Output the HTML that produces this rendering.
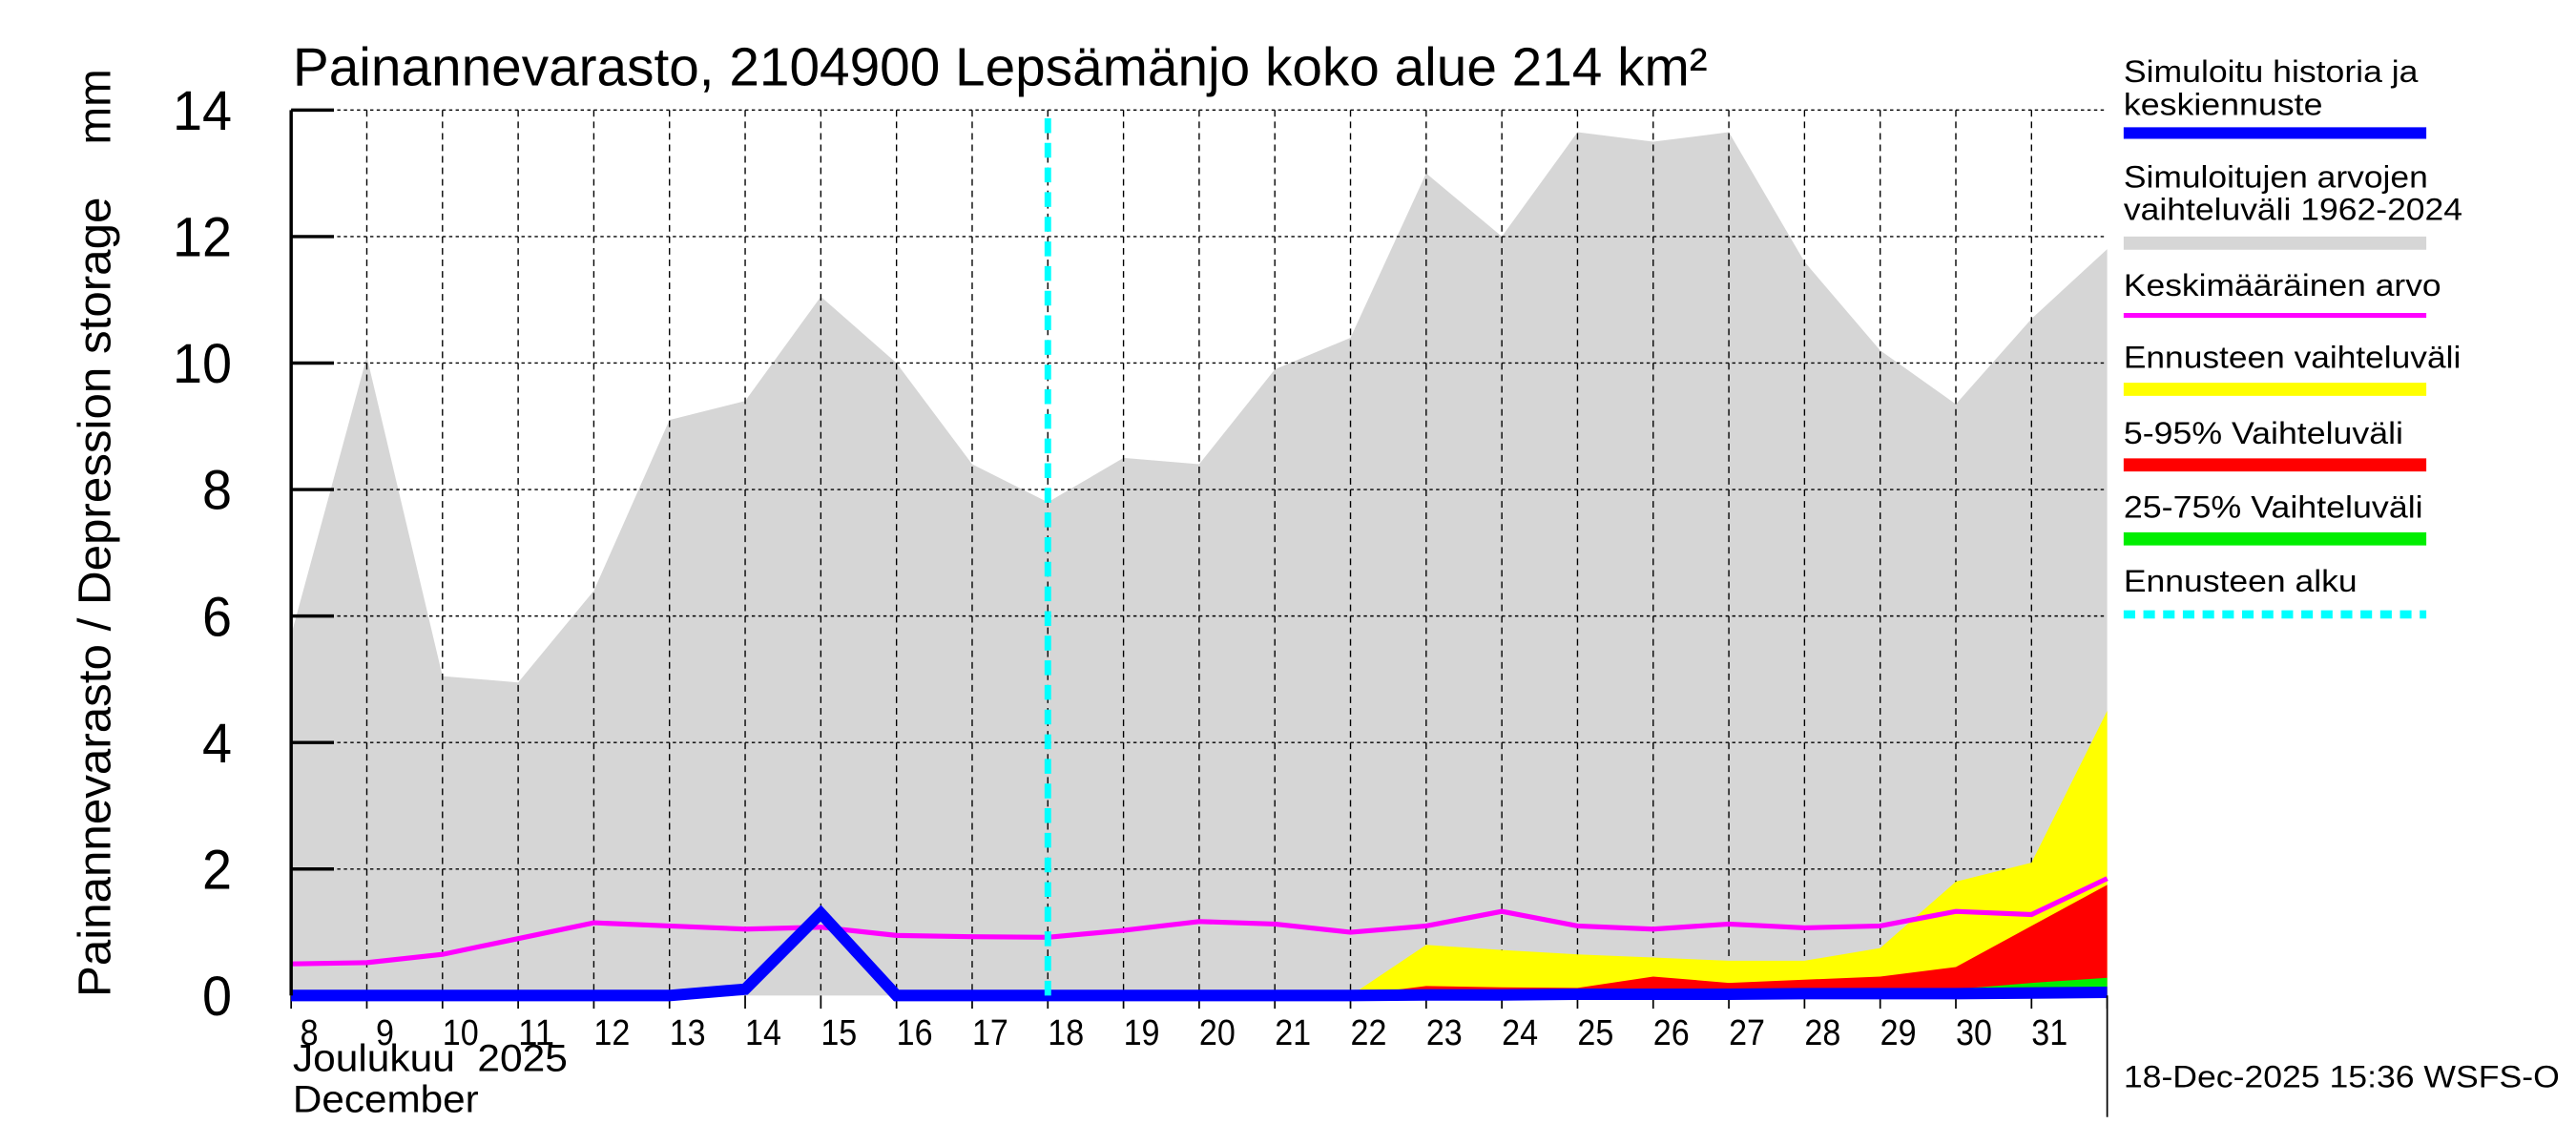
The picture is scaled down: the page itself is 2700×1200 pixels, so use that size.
<!DOCTYPE html>
<html><head><meta charset="utf-8"><style>
html,body{margin:0;padding:0;background:#fff;}
svg{display:block;}
text{font-family:"Liberation Sans",sans-serif;fill:#000;}
</style></head><body>
<svg id="chart" width="2700" height="1200" viewBox="0 0 1566 697" preserveAspectRatio="none" xmlns="http://www.w3.org/2000/svg">
<g id="plot"></g>
<text x="178" y="52" font-size="33" textLength="860" lengthAdjust="spacingAndGlyphs">Painannevarasto, 2104900 Lepsämänjo koko alue 214 km²</text>
<text transform="translate(67,607) rotate(-90)" font-size="28" textLength="487" lengthAdjust="spacingAndGlyphs">Painannevarasto / Depression storage</text>
<text transform="translate(67,88) rotate(-90)" font-size="28" textLength="46" lengthAdjust="spacingAndGlyphs">mm</text>
<text x="178" y="652" font-size="23" textLength="167" lengthAdjust="spacingAndGlyphs" xml:space="preserve">Joulukuu  2025</text>
<text x="178" y="677" font-size="23" textLength="113" lengthAdjust="spacingAndGlyphs">December</text>
<text x="1291" y="662" font-size="19" textLength="265" lengthAdjust="spacingAndGlyphs">18-Dec-2025 15:36 WSFS-O</text>
<line x1="1281" y1="606" x2="1281" y2="680" stroke="#000" stroke-width="1"/>
<g id="legend">
<text x="1291" y="50" font-size="19" textLength="179" lengthAdjust="spacingAndGlyphs">Simuloitu historia ja</text>
<text x="1291" y="70" font-size="19" textLength="121" lengthAdjust="spacingAndGlyphs">keskiennuste</text>
<line x1="1291" y1="81" x2="1475" y2="81" stroke="#0000ff" stroke-width="7"/>
<text x="1291" y="114" font-size="19" textLength="185" lengthAdjust="spacingAndGlyphs">Simuloitujen arvojen</text>
<text x="1291" y="134" font-size="19" textLength="206" lengthAdjust="spacingAndGlyphs">vaihteluväli 1962-2024</text>
<line x1="1291" y1="148" x2="1475" y2="148" stroke="#d6d6d6" stroke-width="8"/>
<text x="1291" y="180" font-size="19" textLength="193" lengthAdjust="spacingAndGlyphs">Keskimääräinen arvo</text>
<line x1="1291" y1="192" x2="1475" y2="192" stroke="#ff00ff" stroke-width="3"/>
<text x="1291" y="224" font-size="19" textLength="205" lengthAdjust="spacingAndGlyphs">Ennusteen vaihteluväli</text>
<line x1="1291" y1="237" x2="1475" y2="237" stroke="#ffff00" stroke-width="8"/>
<text x="1291" y="270" font-size="19" textLength="170" lengthAdjust="spacingAndGlyphs">5-95% Vaihteluväli</text>
<line x1="1291" y1="283" x2="1475" y2="283" stroke="#ff0000" stroke-width="8"/>
<text x="1291" y="315" font-size="19" textLength="182" lengthAdjust="spacingAndGlyphs">25-75% Vaihteluväli</text>
<line x1="1291" y1="328" x2="1475" y2="328" stroke="#00ee00" stroke-width="8"/>
<text x="1291" y="360" font-size="19" textLength="142" lengthAdjust="spacingAndGlyphs">Ennusteen alku</text>
<line x1="1291" y1="374" x2="1475" y2="374" stroke="#00ffff" stroke-width="5" stroke-dasharray="7,5"/>
</g>
</svg>
<script>
const dayLabels = ["8","9","10","11","12","13","14","15","16","17","18","19","20","21","22","23","24","25","26","27","28","29","30","31",""];
const yTicks = [0,2,4,6,8,10,12,14];
const rangeMax = [5.7,10.1,5.05,4.95,6.4,9.1,9.4,11.05,10.0,8.4,7.8,8.5,8.4,9.9,10.4,13.0,12.0,13.65,13.5,13.65,11.6,10.2,9.35,10.7,11.8];
const meanVals = [0.5,0.52,0.65,0.9,1.15,1.1,1.05,1.08,0.95,0.93,0.92,1.03,1.17,1.13,1.0,1.1,1.33,1.1,1.05,1.13,1.07,1.1,1.33,1.28,1.85];
const simVals = [0,0,0,0,0,0,0.1,1.3,0,0,0,0,0,0,0,0.01,0.01,0.02,0.02,0.02,0.03,0.03,0.03,0.04,0.05];
const yellowHi = [null,null,null,null,null,null,null,null,null,null,null,null,null,null,0,0.8,0.72,0.65,0.6,0.55,0.55,0.75,1.8,2.1,4.5];
const redHi = [null,null,null,null,null,null,null,null,null,null,null,null,null,null,0,0.15,0.13,0.12,0.3,0.2,0.25,0.3,0.45,1.1,1.75];
const greenHi = [null,null,null,null,null,null,null,null,null,null,null,null,null,null,0,0,0,0,0,0,0.05,0.07,0.1,0.2,0.28];
const forecastStartIndex = 10;

const NS="http://www.w3.org/2000/svg";
const X0=177,X1=1281,Y0=606,Y1=67,YMAX=14;
const xS=i=>X0+(X1-X0)*i/(dayLabels.length-1);
const yS=v=>Y0-(Y0-Y1)*v/YMAX;
const plot=document.getElementById('plot');
function mk(tag,attrs){const e=document.createElementNS(NS,tag);for(const k in attrs)e.setAttribute(k,attrs[k]);plot.appendChild(e);return e;}
let bg=mk('rect',{x:X0,y:Y1,width:X1-X0,height:Y0-Y1,fill:'#fff'});


function area(hi,lo,fill,name){
  let top=[],bot=[];
  hi.forEach((v,i)=>{if(v!==null){top.push(xS(i)+','+yS(v));bot.unshift(xS(i)+','+yS(lo?lo[i]:0));}});
  const p=mk('polygon',{points:top.concat(bot).join(' '),fill:fill});
  
  
}
area(rangeMax,null,'#d6d6d6','simulated-range-area');
yTicks.forEach(t=>{
  if(t>0){const g=mk('line',{x1:X0,x2:X1,y1:yS(t),y2:yS(t),stroke:'#000','stroke-width':0.8,'stroke-dasharray':'2,2'});
  
  }
  const tk=mk('line',{x1:X0,x2:X0+26,y1:yS(t),y2:yS(t),stroke:'#000','stroke-width':2});
  
  
  const tx=mk('text',{x:141,y:yS(t)+12,'font-size':34,'text-anchor':'end',textLength:t>=10?36:18,lengthAdjust:'spacingAndGlyphs'});
  tx.textContent=String(t);
  
  
});
dayLabels.forEach((d,i)=>{
  if(i>0&&i<dayLabels.length-1){const g=mk('line',{x1:xS(i),x2:xS(i),y1:Y1,y2:Y0,stroke:'#000','stroke-width':0.8,'stroke-dasharray':'4,3'});
  
  }
  const tk=mk('line',{x1:xS(i),x2:xS(i),y1:Y0,y2:Y0+8,stroke:'#000','stroke-width':1});
  
  
  if(d){const tx=mk('text',{x:xS(i)+11,y:Y0+30,'font-size':22,'text-anchor':'middle',textLength:d.length>1?22:11,lengthAdjust:'spacingAndGlyphs'});
  tx.textContent=d;
  
  }
});
area(yellowHi,null,'#ffff00','forecast-range-area');
area(redHi,null,'#ff0000','range-5-95-area');
area(greenHi,null,'#00ee00','range-25-75-area');
function line(vals,stroke,w,name){
  const pts=vals.map((v,i)=>xS(i)+','+yS(v)).join(' ');
  const l=mk('polyline',{points:pts,fill:'none',stroke:stroke,'stroke-width':w,'stroke-linejoin':'miter'});
  
  
}
line(meanVals,'#ff00ff',3,'mean-line');
line(simVals,'#0000ff',7,'simulated-history-line');
const fs=mk('line',{x1:xS(forecastStartIndex),x2:xS(forecastStartIndex),y1:Y1+5,y2:Y0,stroke:'#00ffff','stroke-width':4,'stroke-dasharray':'9,6'});


const ax=mk('line',{x1:X0,x2:X0,y1:Y1,y2:Y0,stroke:'#000','stroke-width':2});


</script>
</body></html>
